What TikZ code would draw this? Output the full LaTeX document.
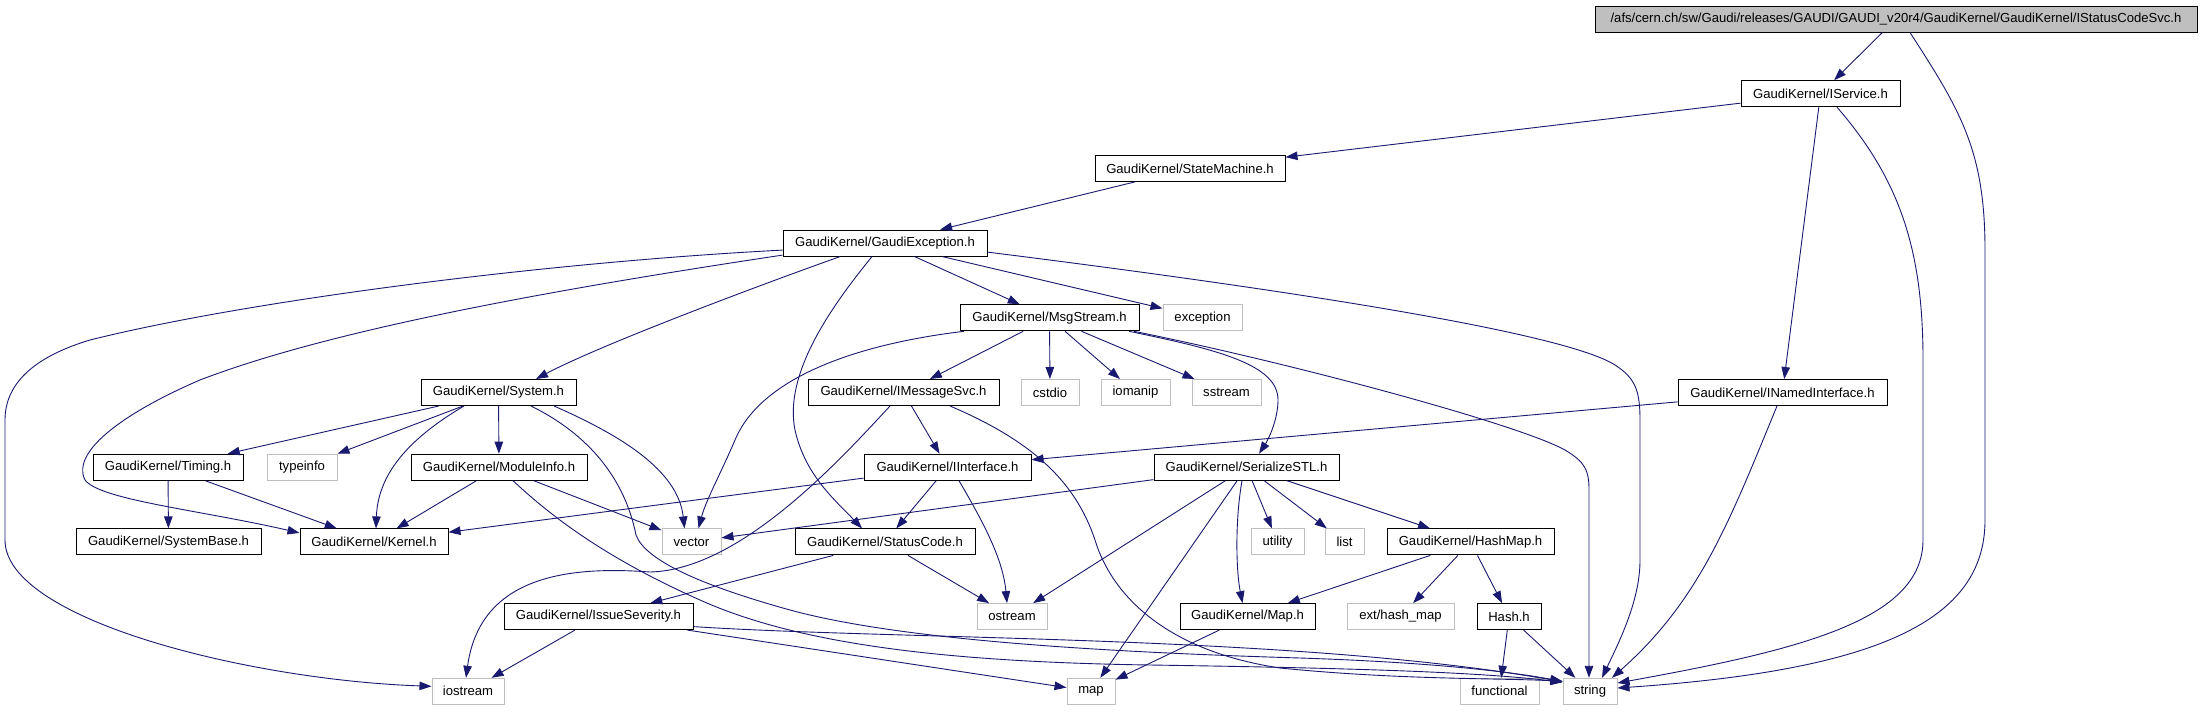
\documentclass[tikz,border=0pt]{standalone}
\usepackage{fontspec}
\setmainfont{Liberation Sans}
\usetikzlibrary{arrows.meta}
\definecolor{edgeblue}{HTML}{191970}
\definecolor{lgray}{HTML}{BFBFBF}
\begin{document}
\begin{tikzpicture}[x=1pt,y=-1pt,
 box/.style={draw=black, line width=1pt, fill=white, minimum height=26pt, inner sep=0pt, font=\fontsize{13.1}{15}\selectfont},
 hdr/.style={box},
 sys/.style={box, draw=lgray},
 root/.style={box, fill=lgray},
 edge/.style={draw=edgeblue, line width=0.9pt, -{Triangle[length=12pt,width=8.5pt]}},
]
\useasboundingbox[fill=white] (0,0) rectangle (2202,720);
% level 0-4
\node[root, minimum width=602] (ROOT) at (1896,19) {/afs/cern.ch/sw/Gaudi/releases/GAUDI/GAUDI\_v20r4/GaudiKernel/GaudiKernel/IStatusCodeSvc.h};
\node[hdr, minimum width=159] (iservice) at (1820.5,93.7) {GaudiKernel/IService.h};
\node[hdr, minimum width=190] (statem) at (1190,168.4) {GaudiKernel/StateMachine.h};
\node[hdr, minimum width=204] (gexc) at (885,243.1) {GaudiKernel/GaudiException.h};
\node[hdr, minimum width=179] (msgs) at (1049.5,317.8) {GaudiKernel/MsgStream.h};
\node[sys, minimum width=79] (excp) at (1202.5,317.8) {exception};
% level 5
\node[hdr, minimum width=155] (system) at (498.5,392.5) {GaudiKernel/System.h};
\node[hdr, minimum width=191] (imsg) at (903.5,392.5) {GaudiKernel/IMessageSvc.h};
\node[sys, minimum width=58] (cstdio) at (1050,392.5) {cstdio};
\node[sys, minimum width=69] (iomanip) at (1135.5,392.5) {iomanip};
\node[sys, minimum width=69] (sstream) at (1226.5,392.5) {sstream};
\node[hdr, minimum width=209] (inamed) at (1782.5,392.5) {GaudiKernel/INamedInterface.h};
% level 6
\node[hdr, minimum width=150] (timing) at (168,467.2) {GaudiKernel/Timing.h};
\node[sys, minimum width=70] (typeinfo) at (302,467.2) {typeinfo};
\node[hdr, minimum width=176] (modinfo) at (499,467.2) {GaudiKernel/ModuleInfo.h};
\node[hdr, minimum width=167] (iintf) at (947.5,467.2) {GaudiKernel/IInterface.h};
\node[hdr, minimum width=185] (sstl) at (1246.5,467.2) {GaudiKernel/SerializeSTL.h};
% level 7
\node[hdr, minimum width=185] (sysbase) at (168.5,541.9) {GaudiKernel/SystemBase.h};
\node[hdr, minimum width=148] (kernel) at (374,541.9) {GaudiKernel/Kernel.h};
\node[sys, minimum width=59] (vector) at (691.5,541.9) {vector};
\node[hdr, minimum width=180] (stcode) at (885,541.9) {GaudiKernel/StatusCode.h};
\node[sys, minimum width=53] (utility) at (1277.5,541.9) {utility};
\node[sys, minimum width=39] (list) at (1344.5,541.9) {list};
\node[hdr, minimum width=167] (hashmap) at (1470.5,541.9) {GaudiKernel/HashMap.h};
% level 8
\node[hdr, minimum width=189] (issue) at (598.5,616.6) {GaudiKernel/IssueSeverity.h};
\node[sys, minimum width=70] (ostream) at (1012,616.6) {ostream};
\node[hdr, minimum width=135] (mapk) at (1247.5,616.6) {GaudiKernel/Map.h};
\node[sys, minimum width=107] (exthash) at (1400.5,616.6) {ext/hash\_map};
\node[hdr, minimum width=64] (hash) at (1509,616.6) {Hash.h};
% level 9
\node[sys, minimum width=72] (iostream) at (468,691.3) {iostream};
\node[sys, minimum width=48] (mapstd) at (1091,691.3) {map};
\node[sys, minimum width=79] (functional) at (1499.5,691.3) {functional};
\node[sys, minimum width=54] (string) at (1590,691.3) {string};

% root
\draw[edge] (ROOT) -- (iservice);
\draw[edge] ([xshift=14]ROOT.south) .. controls (1960,110) and (1985,150) .. (1985,250) -- (1985,520) .. controls (1985,620) and (1880,670) .. ([yshift=3.3]string.east);
% IService
\draw[edge] (iservice) -- (statem);
\draw[edge] ([xshift=16.5]iservice.south) .. controls (1900,180) and (1923,250) .. (1923,360) -- (1923,540) .. controls (1923,620) and (1800,650) .. ([yshift=8.3]string.east);
\draw[edge] (iservice) -- (inamed);
% StateMachine
\draw[edge] (statem) -- (gexc);
% GaudiException
\draw[edge] ([yshift=-7]gexc.west) .. controls (550,262) and (250,300) .. (90,340) .. controls (40,355) and (5,380) .. (5,420) -- (5,540) .. controls (5,620) and (250,680) .. ([yshift=5]iostream.west);
\draw[edge] ([yshift=-12]gexc.west) .. controls (550,290) and (330,330) .. (200,380) .. controls (130,410) and (70,450) .. (85,480) .. controls (100,500) and (200,510) .. ([yshift=9]kernel.west);
\draw[edge] ([xshift=-45]gexc.south) .. controls (760,285) and (600,345) .. ([xshift=37.5]system.north);
\draw[edge] ([xshift=-13]gexc.south) .. controls (820,320) and (785,380) .. (795,430) .. controls (805,475) and (835,500) .. ([xshift=-23]stcode.north);
\draw[edge] (gexc) -- (msgs);
\draw[edge] (gexc) -- (excp);
\draw[edge] ([yshift=-9]gexc.east) .. controls (1250,285) and (1560,330) .. (1615,365) .. controls (1635,378) and (1640,390) .. (1640,420) -- (1640,560) .. controls (1640,600) and (1620,640) .. ([xshift=12]string.north);
% MsgStream
\draw[edge] ([xshift=-85.5]msgs.south) .. controls (850,345) and (760,380) .. (735,440) .. controls (720,475) and (706,500) .. ([xshift=7]vector.north);
\draw[edge] (msgs) -- (imsg);
\draw[edge] (msgs) -- (cstdio);
\draw[edge] (msgs) -- (iomanip);
\draw[edge] (msgs) -- (sstream);
\draw[edge] ([xshift=79.5]msgs.south) .. controls (1220,350) and (1278,365) .. (1278,400) .. controls (1278,420) and (1268,440) .. ([xshift=12.5]sstl.north);
\draw[edge] ([xshift=84.5]msgs.south) .. controls (1300,365) and (1520,425) .. (1565,450) .. controls (1585,462) and (1589,470) .. (1589,490) -- ([xshift=-1]string.north);
% System
\draw[edge] (system) -- (timing);
\draw[edge] (system) -- (typeinfo);
\draw[edge] ([xshift=-34.5]system.south) .. controls (415,435) and (378,470) .. ([xshift=2]kernel.north);
\draw[edge] (system) -- (modinfo);
\draw[edge] ([xshift=55.5]system.south) .. controls (620,435) and (678,470) .. ([xshift=-7]vector.north);
\draw[edge] ([xshift=32.5]system.south) .. controls (590,435) and (625,480) .. (636,535) .. controls (645,560) and (700,585) .. (790,610) .. controls (900,640) and (1100,652) .. (1300,658) .. controls (1420,662) and (1500,670) .. ([yshift=10]string.west);
% Timing
\draw[edge] (timing) -- (sysbase);
\draw[edge] (timing) -- (kernel);
% ModuleInfo
\draw[edge] (modinfo) -- (kernel);
\draw[edge] (modinfo) -- (vector);
\draw[edge] ([xshift=14]modinfo.south) .. controls (555,520) and (610,560) .. (700,600) .. controls (800,645) and (950,662) .. (1150,665) .. controls (1350,668) and (1480,672) .. ([yshift=9]string.west);
% IMessageSvc
\draw[edge] (imsg) -- (iintf);
\draw[edge] ([xshift=-13.5]imsg.south) .. controls (840,460) and (740,570) .. (650,572) .. controls (570,566) and (480,575) .. ([xshift=-2]iostream.north);
\draw[edge] ([xshift=46.5]imsg.south) .. controls (1030,440) and (1075,480) .. (1095,540) .. controls (1110,590) and (1160,650) .. (1280,668) .. controls (1400,680) and (1500,678) .. ([yshift=10]string.west);
% INamedInterface
\draw[edge] (inamed) -- (iintf);
\draw[edge] ([xshift=-5.5]inamed.south) .. controls (1730,520) and (1700,600) .. ([xshift=22]string.north);
% IInterface
\draw[edge] (iintf) -- (kernel);
\draw[edge] (iintf) -- (stcode);
\draw[edge] ([xshift=11.5]iintf.south) .. controls (985,525) and (1003,560) .. ([xshift=-5]ostream.north);
% SerializeSTL
\draw[edge] (sstl) -- (vector);
\draw[edge] (sstl) -- (ostream);
\draw[edge] (sstl) -- (mapstd);
\draw[edge] ([xshift=-4.5]sstl.south) .. controls (1235,520) and (1236,570) .. ([xshift=-5]mapk.north);
\draw[edge] (sstl) -- (utility);
\draw[edge] (sstl) -- (list);
\draw[edge] (sstl) -- (hashmap);
% StatusCode
\draw[edge] (stcode) -- (issue);
\draw[edge] (stcode) -- (ostream);
% HashMap
\draw[edge] (hashmap) -- (mapk);
\draw[edge] (hashmap) -- (exthash);
\draw[edge] (hashmap) -- (hash);
% IssueSeverity
\draw[edge] (issue) -- (iostream);
\draw[edge] (issue) -- (mapstd);
\draw[edge] ([yshift=-10]issue.east) .. controls (900,640) and (1300,635) .. ([yshift=9.5]string.west);
% Map
\draw[edge] (mapk) -- (mapstd);
% Hash
\draw[edge] (hash) -- (functional);
\draw[edge] (hash) -- (string);
\end{tikzpicture}
\end{document}
